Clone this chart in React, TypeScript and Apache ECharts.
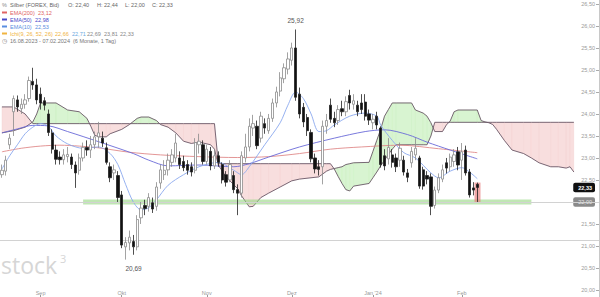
import React, { useEffect, useRef } from "react";
import * as echarts from "echarts";

// ---------- categories (trading days; day 0 = 16.08.2023) ----------
const FIRST_IDX = 2; // first visible trading day (18.08.2023)
const FIRST_DATE = "2023-08-18";
const SLOT_COUNT = 155; // visible slots incl. 26-day cloud projection

const monthTickDates = ["2023-09-01", "2023-10-02", "2023-11-01", "2023-12-01", "2024-01-01", "2024-02-01"];
const monthTickLabels = ["Sep", "Okt", "Nov", "Dez", "Jan '24", "Feb"];

const yLabelValues = [20, 20.5, 21, 21.5, 22, 22.33, 22.5, 23, 23.5, 24, 24.5, 25, 25.5, 26, 26.5];
const yTickValues = [20, 20.5, 21, 21.5, 22, 22.5, 23, 23.5, 24, 24.5, 25, 25.5, 26, 26.5];

// ---------- candles [open, close, low, high], trading days 2..125 ----------
const candles: number[][] = [
  [22.62, 22.72, 22.55, 22.85], [22.70, 22.95, 22.60, 23.05], [23.30, 23.45, 23.20, 23.55], [24.05, 24.35, 23.50, 24.42],
  [24.32, 24.16, 24.05, 24.42], [24.12, 24.22, 24.00, 24.35], [24.22, 24.32, 24.12, 24.45], [24.35, 24.76, 24.28, 24.85],
  [24.74, 24.66, 24.55, 25.05], [24.66, 24.32, 24.22, 24.80], [24.45, 24.25, 24.10, 24.60], [24.30, 24.20, 24.08, 24.38],
  [24.00, 23.58, 23.50, 24.10], [23.57, 23.20, 23.10, 23.65], [23.18, 22.97, 22.85, 23.30], [23.02, 22.96, 22.85, 23.15],
  [22.96, 23.07, 22.85, 23.20], [23.03, 23.08, 22.90, 23.25], [23.02, 22.85, 22.75, 23.10], [22.84, 22.66, 22.32, 22.92],
  [22.72, 23.00, 22.62, 23.10], [23.00, 23.24, 22.92, 23.35], [23.24, 23.18, 23.05, 23.40], [23.18, 23.30, 23.00, 23.50],
  [23.30, 23.48, 23.20, 23.60], [23.48, 23.57, 23.23, 23.82], [23.45, 23.34, 23.25, 23.60], [23.23, 22.90, 22.85, 23.35],
  [22.80, 22.55, 22.45, 22.90], [22.66, 22.73, 22.50, 22.85], [22.60, 22.10, 22.00, 22.70], [22.16, 21.02, 20.95, 22.25],
  [20.98, 21.08, 20.69, 21.20], [21.07, 21.20, 20.90, 21.35], [21.10, 20.98, 20.80, 21.25], [20.98, 21.60, 20.90, 21.70],
  [21.64, 21.86, 21.50, 22.00], [21.92, 21.85, 21.70, 22.05], [21.90, 22.10, 21.78, 22.20], [21.98, 21.84, 21.75, 22.10],
  [21.90, 22.34, 21.80, 22.45], [22.43, 22.73, 22.30, 22.85], [22.62, 22.72, 22.50, 22.95], [22.73, 22.95, 22.60, 23.10],
  [22.90, 23.07, 22.80, 23.20], [23.00, 23.34, 22.90, 23.55], [23.00, 22.85, 22.75, 23.15], [22.92, 22.78, 22.70, 23.05],
  [22.85, 22.72, 22.62, 22.95], [22.80, 22.68, 22.58, 22.90], [22.72, 23.35, 22.65, 23.45], [23.30, 23.38, 23.10, 23.55],
  [23.30, 22.92, 22.85, 23.40], [22.92, 23.20, 22.85, 23.30], [23.15, 22.82, 22.72, 23.25], [22.82, 23.05, 22.75, 23.20],
  [23.05, 22.90, 22.80, 23.15], [22.85, 22.50, 22.42, 22.90], [22.62, 22.45, 22.35, 22.70], [22.50, 22.85, 22.45, 22.95],
  [22.60, 22.28, 22.20, 22.70], [22.28, 22.20, 21.70, 22.40], [22.20, 23.05, 22.10, 23.15], [23.00, 23.25, 22.90, 23.55],
  [23.25, 23.72, 23.15, 23.90], [23.68, 23.78, 23.50, 23.98], [23.72, 23.28, 23.20, 23.85], [23.45, 23.95, 23.35, 24.05],
  [23.78, 23.68, 23.55, 23.90], [23.62, 23.90, 23.55, 24.00], [23.90, 24.25, 23.82, 24.35], [24.25, 24.50, 24.15, 24.62],
  [24.52, 24.82, 24.40, 24.95], [24.80, 25.05, 24.70, 25.15], [25.02, 25.25, 24.90, 25.40], [25.22, 25.50, 25.10, 25.62],
  [25.50, 24.38, 24.30, 25.92], [24.45, 24.00, 23.90, 24.60], [24.15, 23.82, 23.70, 24.25], [23.92, 23.62, 23.50, 24.00],
  [23.58, 22.98, 22.90, 23.65], [23.00, 22.75, 22.65, 23.10], [22.80, 22.74, 22.60, 22.95], [22.80, 23.72, 22.40, 23.85],
  [23.72, 23.85, 23.55, 24.00], [24.20, 23.88, 23.80, 24.35], [23.90, 23.80, 23.70, 24.05], [23.85, 24.10, 23.75, 24.20],
  [24.12, 24.05, 23.95, 24.30], [24.05, 24.28, 23.95, 24.40], [24.42, 24.25, 24.10, 24.55], [24.22, 24.30, 24.10, 24.45],
  [24.20, 24.05, 23.95, 24.30], [24.25, 24.10, 24.00, 24.45], [24.27, 23.95, 23.85, 24.45], [24.00, 23.86, 23.75, 24.10],
  [23.80, 23.88, 23.65, 24.00], [23.95, 23.75, 23.65, 24.05], [23.68, 22.85, 22.78, 23.72], [23.05, 22.82, 22.72, 23.20],
  [22.98, 23.24, 22.85, 23.45], [23.07, 22.90, 22.78, 23.20], [23.00, 22.80, 22.68, 23.10], [22.95, 23.22, 22.80, 23.35],
  [22.95, 22.68, 22.60, 23.05], [22.66, 22.56, 22.45, 22.75], [22.89, 23.15, 22.78, 23.25], [23.07, 23.22, 22.95, 23.45],
  [23.00, 22.36, 22.30, 23.05], [22.73, 22.36, 22.28, 22.80], [22.60, 22.52, 22.40, 22.70], [22.57, 21.90, 21.70, 22.65],
  [21.92, 22.27, 21.85, 22.35], [22.27, 22.55, 22.20, 22.65], [22.52, 22.73, 22.45, 22.85], [22.89, 22.77, 22.65, 23.00],
  [22.80, 23.02, 22.70, 23.10], [22.92, 23.07, 22.80, 23.20], [23.14, 22.84, 22.72, 23.25], [22.95, 23.14, 22.50, 23.34],
  [23.18, 22.66, 22.60, 23.28], [22.68, 22.16, 22.10, 22.75], [22.32, 22.27, 22.15, 22.45], [22.40, 22.33, 22.00, 22.44],
];

// ---------- indicators: [trading day, value] ----------
const ema200: number[][] = [
  [2, 23.14], [7, 23.22], [12, 23.27], [17, 23.29], [22, 23.27], [27, 23.23], [35, 23.13], [43, 23.07], [53, 23.03],
  [63, 23.01], [71, 23.03], [79, 23.10], [87, 23.20], [95, 23.25], [105, 23.29], [115, 23.21], [125, 23.12],
];
const ema50: number[][] = [
  [2, 23.57], [6, 23.66], [10, 23.74], [14, 23.73], [19, 23.60], [27, 23.37], [36, 23.10], [40, 22.95], [45, 22.82],
  [53, 22.84], [62, 22.80], [66, 22.87], [71, 23.02], [79, 23.25], [88, 23.45], [96, 23.60], [101, 23.64], [107, 23.53],
  [112, 23.36], [118, 23.18], [125, 22.98],
];
const ema10: number[][] = [
  [2, 22.75], [4, 23.05], [6, 23.30], [8, 23.55], [10, 23.70], [12, 23.78], [14, 23.72], [16, 23.50], [19, 23.32],
  [23, 23.22], [27, 23.25], [30, 23.10], [32, 22.85], [34, 22.40], [36, 22.00], [38, 21.82], [40, 21.87], [42, 22.05],
  [45, 22.38], [49, 22.62], [53, 22.80], [58, 22.90], [62, 22.72], [64, 22.62], [66, 22.80], [70, 23.30], [74, 23.80],
  [76, 24.20], [78, 24.50], [80, 24.35], [82, 24.00], [84, 23.60], [86, 23.62], [88, 23.75], [92, 23.95], [96, 24.02],
  [99, 23.95], [100, 23.75], [103, 23.40], [106, 23.12], [109, 23.00], [113, 22.66], [115, 22.55], [118, 22.70],
  [121, 22.78], [123, 22.68], [125, 22.53],
];

// Ichimoku cloud (Senkou A / Senkou B), sampled at the same trading days
const cloudDays = [
  2, 5, 8, 10, 11, 12, 16, 19, 22, 24, 25, 26, 27, 29, 30, 33, 35, 37, 38, 40, 42, 43, 45, 47, 49, 51, 53, 56, 57, 58,
  60, 63, 64, 66, 67, 69, 71, 74, 77, 79, 84, 86, 87, 88, 89, 90, 91, 92, 93, 97, 98, 99, 100, 101, 102, 103, 104, 108,
  109, 111, 112, 113, 114, 116, 117, 118, 119, 120, 125, 126, 127, 128, 129, 130, 132, 134, 137, 139, 141, 144, 146,
  148, 149, 150,
];
const senkouA = [
  23.57, 23.62, 23.70, 23.82, 24.00, 24.25, 24.25, 24.09, 24.05, 23.90, 23.72, 23.52, 23.48, 23.48, 23.55, 23.65, 23.76,
  23.90, 23.93, 23.93, 23.85, 23.76, 23.70, 23.57, 23.38, 23.33, 23.36, 23.30, 23.20, 22.84, 22.57, 22.30, 22.14, 21.89,
  21.90, 22.10, 22.20, 22.34, 22.48, 22.52, 22.57, 22.70, 22.74, 22.76, 22.78, 22.80, 22.85, 22.87, 22.89, 22.90, 23.15,
  23.40, 23.65, 23.95, 24.10, 24.25, 24.25, 24.25, 24.09, 24.02, 23.95, 23.80, 23.60, 23.60, 23.75, 23.84, 24.05, 24.09,
  24.09, 23.85, 23.82, 23.80, 23.76, 23.65, 23.40, 23.18, 23.10, 23.00, 22.89, 22.80, 22.80, 22.77, 22.80, 22.68,
];
const senkouB = [
  24.16, 24.16, 24.00, 23.78, 23.78, 23.78, 23.78, 23.78, 23.78, 23.78, 23.78, 23.78, 23.78, 23.78, 23.78, 23.78, 23.78,
  23.78, 23.78, 23.78, 23.78, 23.78, 23.78, 23.78, 23.78, 23.78, 23.78, 23.78, 23.78, 22.87, 22.87, 22.87, 22.87, 22.87,
  22.87, 22.87, 22.87, 22.87, 22.87, 22.87, 22.87, 22.87, 22.87, 22.75, 22.58, 22.42, 22.28, 22.25, 22.36, 22.42, 22.55,
  22.68, 22.82, 22.95, 23.08, 23.20, 23.30, 23.30, 23.30, 23.30, 23.30, 23.50, 23.81, 23.81, 23.81, 23.81, 23.81, 23.81,
  23.81, 23.81, 23.81, 23.81, 23.81, 23.81, 23.81, 23.81, 23.81, 23.81, 23.81, 23.81, 23.81, 23.81, 23.81, 23.81,
];

// horizontal levels
const supportLevel = 22.0;
const supportFromDay = 23;
const supportToDay = 139;
const lowerLine = 21.12;

// header values
const lastOHLC = { O: "22,40", H: "22,44", L: "22,00", C: "22,33" };
const ichiValues = ["22,66", "22,71", "22,69", "23,81", "22,33"];

// ---------- helpers ----------
function buildWeekdays(start: string, n: number): string[] {
  const out: string[] = [];
  const [y, m, d] = start.split("-").map(Number);
  let t = Date.UTC(y, m - 1, d);
  while (out.length < n) {
    const dt = new Date(t);
    const wd = dt.getUTCDay();
    if (wd !== 0 && wd !== 6) out.push(dt.toISOString().slice(0, 10));
    t += 86400000;
  }
  return out;
}
const comma = (v: number) => v.toFixed(2).replace(".", ",");

function buildOption() {
  const categories = buildWeekdays(FIRST_DATE, SLOT_COUNT);
  const monthLabelByIndex: Record<number, string> = {};
  monthTickDates.forEach((d, i) => {
    const k = categories.indexOf(d);
    if (k >= 0) monthLabelByIndex[k] = monthTickLabels[i];
  });
  const isMonth = (i: number) => monthLabelByIndex[i] !== undefined;

  const toPts = (arr: number[][]) => arr.map(([d, v]) => [d - FIRST_IDX, v]);
  const cloudData = cloudDays.map((d, i) => [d - FIRST_IDX, senkouA[i], senkouB[i]]);

  // peak / trough labels
  let hiI = 0, loI = 0;
  candles.forEach((c, i) => {
    if (c[3] > candles[hiI][3]) hiI = i;
    if (c[2] < candles[loI][2]) loI = i;
  });
  const lastI = candles.length - 1;
  const highlight = candles.map((c, i) => (i === lastI ? [c[2], c[3], c[2], c[3]] : "-"));

  const GREEN = "rgba(190, 236, 178, 0.6)";
  const RED = "rgba(244, 200, 200, 0.6)";

  const cloudFill = {
    type: "custom",
    z: 1,
    silent: true,
    clip: true,
    encode: { x: 0, y: [1, 2] },
    data: cloudData,
    renderItem: (params: any, api: any) => {
      const i = params.dataIndex;
      if (i >= cloudData.length - 1) return null;
      const [x0, a0, b0] = cloudData[i];
      const [x1, a1, b1] = cloudData[i + 1];
      const pA0 = api.coord([x0, a0]);
      const pB0 = api.coord([x0, b0]);
      const pA1 = api.coord([x1, a1]);
      const pB1 = api.coord([x1, b1]);
      const d0 = a0 - b0;
      const d1 = a1 - b1;
      const poly = (pts: number[][], up: boolean) => ({
        type: "polygon",
        shape: { points: pts },
        style: { fill: up ? GREEN : RED, stroke: up ? GREEN : RED, lineWidth: 0.3 },
      });
      const children: any[] = [];
      if (d0 * d1 < 0) {
        const t = d0 / (d0 - d1);
        const pm = [pA0[0] + t * (pA1[0] - pA0[0]), pA0[1] + t * (pA1[1] - pA0[1])];
        children.push(poly([pA0, pm, pB0], d0 > 0));
        children.push(poly([pm, pA1, pB1], d1 > 0));
      } else {
        children.push(poly([pA0, pA1, pB1, pB0], d0 + d1 >= 0));
      }
      return { type: "group", children };
    },
  };

  const spanLine = (vals: number[]) => ({
    type: "line",
    z: 2,
    silent: true,
    symbol: "none",
    data: cloudDays.map((d, i) => [d - FIRST_IDX, vals[i]]),
    lineStyle: { color: "#6a5868", width: 0.9 },
  });

  const emaLine = (arr: number[][], color: string) => ({
    type: "line",
    z: 3,
    silent: true,
    symbol: "none",
    smooth: 0.3,
    data: toPts(arr),
    lineStyle: { color, width: 0.9 },
  });

  const font = '"Liberation Sans", Arial, sans-serif';
  const txt = (x: number, y: number, text: string, fill: string, size = 5.5) => ({
    type: "text",
    x,
    y,
    z: 20,
    silent: true,
    style: { text, fill, font: `${size}px ${font}`, verticalAlign: "middle", align: "left" },
  });
  const swatch = (y: number, color: string) => ({
    type: "rect",
    z: 20,
    silent: true,
    shape: { x: 2, y: y - 1, width: 5, height: 2 },
    style: { fill: color },
  });

  const header = [
    txt(2, 5, "%", "#888"),
    txt(10, 5, "Silber (FOREX, Bid)", "#666"),
    txt(68, 5, `O: ${lastOHLC.O}`, "#666"),
    txt(97, 5, `H: ${lastOHLC.H}`, "#666"),
    txt(125, 5, `L: ${lastOHLC.L}`, "#666"),
    txt(152, 5, `C: ${lastOHLC.C}`, "#666"),
    swatch(12.5, "#e06464"),
    txt(10, 12.5, "EMA(200)", "#e06464"),
    txt(38, 12.5, "23,12", "#e06464"),
    swatch(19.5, "#4646c8"),
    txt(10, 19.5, "EMA(50)", "#4646c8"),
    txt(35, 19.5, "22,98", "#4646c8"),
    swatch(26.5, "#5a8ee0"),
    txt(10, 26.5, "EMA(10)", "#5a8ee0"),
    txt(35, 26.5, "22,53", "#5a8ee0"),
    swatch(33.5, "#f0b440"),
    txt(10, 33.5, "Ichi(9, 26, 52, 26)", "#f0b440"),
    txt(55, 33.5, ichiValues[0], "#f0b440"),
    txt(72, 33.5, ichiValues[1], "#6aa8e0"),
    txt(87, 33.5, ichiValues[2], "#888"),
    txt(104, 33.5, ichiValues[3], "#888"),
    txt(120, 33.5, ichiValues[4], "#888"),
    txt(2, 41, "◷", "#777", 6),
    txt(10, 41, "16.08.2023 - 07.02.2024", "#777"),
    txt(73, 41, "(6 Monate, 1 Tag)", "#777"),
    {
      type: "text",
      x: 1,
      y: 265,
      z: 0,
      silent: true,
      style: { text: "stock", fill: "#d6d6d6", font: `23px "Open Sans", sans-serif`, verticalAlign: "middle" },
    },
    {
      type: "text",
      x: 60,
      y: 258,
      z: 0,
      silent: true,
      style: { text: "3", fill: "#d6d6d6", font: `11px "Open Sans", sans-serif`, verticalAlign: "middle" },
    },
  ];

  return {
    animation: false,
    backgroundColor: "#ffffff",
    grid: { left: 0, right: 1, top: 0, bottom: 0, outerBoundsMode: "none" },
    xAxis: {
      type: "category",
      data: categories,
      boundaryGap: true,
      axisLine: { show: false },
      splitLine: { show: false },
      axisTick: {
        show: true,
        inside: true,
        length: 2,
        alignWithLabel: true,
        interval: (i: number) => isMonth(i),
        lineStyle: { color: "#999" },
      },
      axisLabel: {
        inside: true,
        interval: (i: number) => isMonth(i),
        formatter: (_v: string, i: number) => monthLabelByIndex[i] ?? "",
        fontSize: 5.5,
        fontFamily: font,
        color: "#999",
        margin: 1,
      },
    },
    yAxis: {
      type: "value",
      position: "right",
      min: 19.84,
      max: 26.59,
      scale: true,
      splitLine: { show: false },
      axisLine: { show: true, lineStyle: { color: "#c8c8c8" } },
      axisTick: { show: true, inside: true, length: 3, customValues: yTickValues, lineStyle: { color: "#aaa" } },
      axisLabel: {
        inside: true,
        margin: 4,
        customValues: yLabelValues,
        fontSize: 5.5,
        fontFamily: font,
        color: "#999",
        formatter: (v: number) => {
          const s = comma(v);
          if (Math.abs(v - 22.33) < 1e-6) return `{cur|${s}}`;
          if (Math.abs(v - 22) < 1e-6) return `{lvl|${s}}`;
          return s;
        },
        rich: {
          cur: {
            backgroundColor: "#111",
            color: "#fff",
            fontSize: 5.5,
            fontWeight: "bold",
            padding: [2, 3, 1.5, 5],
            borderRadius: 2,
          },
          lvl: {
            backgroundColor: "#8a8a8a",
            color: "#e8e8e8",
            fontSize: 5.5,
            padding: [2, 3, 1.5, 5],
            borderRadius: 2,
          },
        },
      },
    },
    graphic: header,
    series: [
      cloudFill,
      spanLine(senkouA),
      spanLine(senkouB),
      {
        type: "line",
        z: 2,
        silent: true,
        symbol: "none",
        data: [
          [supportFromDay - FIRST_IDX, supportLevel],
          [supportToDay - FIRST_IDX, supportLevel],
        ],
        lineStyle: { color: "rgba(150, 215, 130, 0.6)", width: 5 },
        markLine: {
          silent: true,
          symbol: "none",
          label: { show: false },
          lineStyle: { color: "#d2d2d2", width: 1.2, type: "solid" },
          data: [{ yAxis: supportLevel }, { yAxis: lowerLine }],
        },
      },
      emaLine(ema200, "#e08a8a"),
      emaLine(ema50, "#6a6ad8"),
      emaLine(ema10, "#8aa8ee"),
      {
        type: "candlestick",
        z: 4,
        silent: true,
        barWidth: 6,
        data: highlight,
        itemStyle: {
          color: "rgba(232, 120, 120, 0.65)",
          color0: "rgba(232, 120, 120, 0.65)",
          borderColor: "rgba(232, 120, 120, 0)",
          borderColor0: "rgba(232, 120, 120, 0)",
        },
      },
      {
        type: "candlestick",
        z: 5,
        silent: true,
        barWidth: 2.8,
        data: candles,
        itemStyle: {
          color: "#ffffff",
          color0: "#111111",
          borderColor: "#8c8c8c",
          borderColor0: "#222222",
          borderWidth: 0.8,
        },
        markPoint: {
          silent: true,
          symbol: "circle",
          symbolSize: 0,
          label: { show: true, fontSize: 6.5, fontFamily: font, color: "#555" },
          data: [
            {
              coord: [hiI, candles[hiI][3]],
              label: { position: "top", distance: 5, formatter: comma(candles[hiI][3]) },
            },
            {
              coord: [loI, candles[loI][2]],
              label: { position: "bottom", distance: 5, offset: [8, 0], formatter: comma(candles[loI][2]) },
            },
          ],
        },
      },
    ],
  };
}

export default function App() {
  const ref = useRef<HTMLDivElement>(null);
  useEffect(() => {
    if (!ref.current) return;
    const chart = echarts.init(ref.current, undefined, { renderer: "svg" });
    chart.setOption(buildOption() as any);
    return () => chart.dispose();
  }, []);
  return <div ref={ref} style={{ position: "absolute", left: 0, top: 0, width: 600, height: 297 }} />;
}
